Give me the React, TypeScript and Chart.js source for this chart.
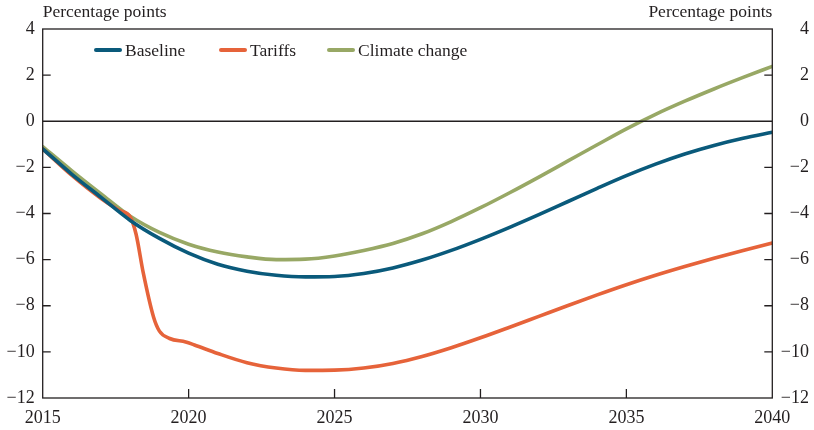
import { useEffect, useRef } from "react";
import { Chart, registerables } from "chart.js";

Chart.register(...registerables);

const years = [
  2015, 2016, 2017, 2018, 2019, 2020, 2021, 2022, 2023, 2024, 2025, 2026, 2027,
  2028, 2029, 2030, 2031, 2032, 2033, 2034, 2035, 2036, 2037, 2038, 2039, 2040,
];
const baseline = [
  -1.2, -2.3, -3.3, -4.3, -5.08, -5.72, -6.2, -6.5, -6.68, -6.75, -6.73, -6.6,
  -6.36, -6.02, -5.6, -5.12, -4.6, -4.05, -3.48, -2.91, -2.36, -1.86, -1.42,
  -1.05, -0.74, -0.48,
];
const climate = [
  -1.1, -2.15, -3.15, -4.12, -4.82, -5.33, -5.67, -5.88, -6.0, -5.98, -5.84,
  -5.6, -5.3, -4.88, -4.35, -3.75, -3.1, -2.42, -1.72, -1.02, -0.33, 0.3, 0.87,
  1.4, 1.9, 2.38,
];
const tariffYears = [
  2015, 2016, 2017, 2017.6, 2018, 2018.2, 2018.45, 2018.8, 2019.0, 2019.35,
  2019.9, 2020.2, 2021, 2022, 2023, 2024, 2025, 2026, 2027, 2028, 2029, 2030,
  2031, 2032, 2033, 2034, 2035, 2036, 2037, 2038, 2039, 2040,
];
const tariffs = [
  -1.2, -2.35, -3.35, -3.85, -4.15, -4.9, -6.6, -8.5, -9.1, -9.42, -9.57, -9.7,
  -10.07, -10.47, -10.7, -10.8, -10.79, -10.7, -10.5, -10.2, -9.82, -9.39,
  -8.93, -8.46, -7.99, -7.53, -7.09, -6.68, -6.3, -5.94, -5.6, -5.28,
];
const seriesLabels = ["Baseline", "Tariffs", "Climate change"];
const seriesColors = ["#0a5a7b", "#e6633a", "#98a865"];
const xTicks = [2015, 2020, 2025, 2030, 2035, 2040];
const yTicks = [4, 2, 0, -2, -4, -6, -8, -10, -12];
const axisTitle = "Percentage points";

const FONT = "'Liberation Serif', 'DejaVu Serif', serif";
const INK = "#231f20";

const fmt = (v: number) => (v < 0 ? "\u2212" + Math.abs(v) : String(v));

const framePlugin = {
  id: "framePlugin",
  afterDraw(chart: any) {
    const { ctx, chartArea } = chart;
    const { left, right, top, bottom } = chartArea;
    const xs = chart.scales.x;
    const ys = chart.scales.y;
    ctx.save();
    ctx.strokeStyle = INK;
    ctx.lineWidth = 1.3;
    ctx.strokeRect(left, top, right - left, bottom - top);
    const y0 = ys.getPixelForValue(0);
    ctx.beginPath();
    ctx.moveTo(left, y0);
    ctx.lineTo(right, y0);
    ctx.stroke();
    ys.ticks.forEach((t: any) => {
      if (t.value === ys.min || t.value === ys.max || t.value === 0) return;
      const py = ys.getPixelForValue(t.value);
      ctx.beginPath();
      ctx.moveTo(left, py);
      ctx.lineTo(left + 8, py);
      ctx.moveTo(right, py);
      ctx.lineTo(right - 8, py);
      ctx.stroke();
    });
    xs.ticks.forEach((t: any) => {
      if (t.value === xs.min || t.value === xs.max) return;
      const px = xs.getPixelForValue(t.value);
      ctx.beginPath();
      ctx.moveTo(px, bottom);
      ctx.lineTo(px, bottom - 9);
      ctx.stroke();
    });
    ctx.fillStyle = INK;
    ctx.font = `17.5px ${FONT}`;
    ctx.textBaseline = "alphabetic";
    ctx.textAlign = "left";
    ctx.fillText(axisTitle, left, 17);
    ctx.textAlign = "right";
    ctx.fillText(axisTitle, right, 17);
    const legendX = [95, 220, 328];
    chart.data.datasets.forEach((ds: any, i: number) => {
      const x0 = legendX[i];
      ctx.beginPath();
      ctx.strokeStyle = ds.borderColor;
      ctx.lineWidth = 4;
      ctx.lineCap = "round";
      ctx.moveTo(x0 + 1, 50);
      ctx.lineTo(x0 + 25, 50);
      ctx.stroke();
      ctx.fillStyle = INK;
      ctx.textAlign = "left";
      ctx.fillText(ds.label, x0 + 30, 56);
    });
    ctx.restore();
  },
};

export default function App() {
  const ref = useRef<HTMLCanvasElement>(null);
  useEffect(() => {
    document.body.style.margin = "0";
    const mk = (xsArr: number[], vs: number[]) =>
      xsArr.map((x, i) => ({ x, y: vs[i] }));
    const data = [
      mk(years, baseline),
      mk(tariffYears, tariffs),
      mk(years, climate),
    ];
    const tickFont = { family: FONT, size: 18 };
    const chart = new Chart(ref.current as HTMLCanvasElement, {
      type: "line",
      data: {
        datasets: data.map((d, i) => ({
          label: seriesLabels[i],
          data: d,
          borderColor: seriesColors[i],
          backgroundColor: seriesColors[i],
          borderWidth: 3.6,
          pointRadius: 0,
          cubicInterpolationMode: "monotone" as const,
          borderCapStyle: "round" as const,
        })),
      },
      plugins: [framePlugin],
      options: {
        responsive: false,
        animation: false,
        layout: { padding: { top: 29, left: 0, right: 5, bottom: 0 } },
        plugins: { legend: { display: false }, tooltip: { enabled: false } },
        scales: {
          x: {
            type: "linear",
            min: 2015,
            max: 2040,
            afterBuildTicks: (s: any) => {
              s.ticks = xTicks.map((v) => ({ value: v }));
            },
            afterFit: (s: any) => {
              s.height = 32;
            },
            grid: { display: false, drawTicks: false },
            border: { display: false },
            ticks: {
              color: INK,
              padding: 9,
              maxRotation: 0,
              font: tickFont,
              callback: (v: any) => String(v),
            },
          },
          y: {
            position: "left",
            min: -12,
            max: 4,
            afterBuildTicks: (s: any) => {
              s.ticks = yTicks.map((v) => ({ value: v }));
            },
            afterFit: (s: any) => {
              s.width = 42.7;
            },
            grid: { display: false, drawTicks: false },
            border: { display: false },
            ticks: {
              color: INK,
              padding: 8,
              font: tickFont,
              callback: (v: any) => fmt(Number(v)),
            },
          },
          y2: {
            position: "right",
            min: -12,
            max: 4,
            afterBuildTicks: (s: any) => {
              s.ticks = yTicks.map((v) => ({ value: v }));
            },
            afterFit: (s: any) => {
              s.width = 36.7;
            },
            grid: { display: false, drawTicks: false },
            border: { display: false },
            ticks: {
              color: INK,
              padding: 8,
              crossAlign: "far",
              font: tickFont,
              callback: (v: any) => fmt(Number(v)),
            },
          },
        },
      },
    } as any);
    return () => chart.destroy();
  }, []);
  return <canvas ref={ref} width={814} height={430} style={{ display: "block" }} />;
}
